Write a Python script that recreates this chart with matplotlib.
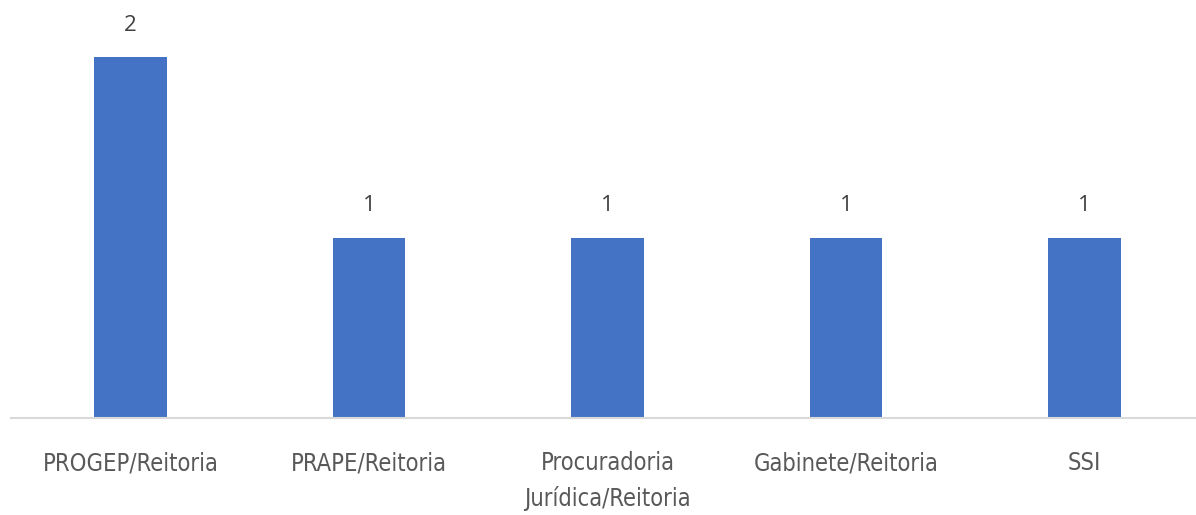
import matplotlib.pyplot as plt

categories = ['PROGEP/Reitoria', 'PRAPE/Reitoria', 'Procuradoria\nJurídica/Reitoria',
              'Gabinete/Reitoria', 'SSI']
values = [2, 1, 1, 1, 1]

fig = plt.figure(figsize=(11.96, 5.15), dpi=100)
ax = fig.add_axes([11.25 / 1196, 97 / 515, 1192.5 / 1196, 397 / 515])

x = range(len(categories))
bars = ax.bar(x, values, width=0.306, color='#4472C4')
ax.set_xlim(-0.5, len(categories) - 0.5)
ax.set_ylim(0, 2.2)

# value labels above each bar
for b, v in zip(bars, values):
    ax.annotate(str(v), (b.get_x() + b.get_width() / 2, v), xytext=(0, 23),
                textcoords='offset points', ha='center', va='center',
                fontsize=16, color='#404040', family='Open Sans')

ax.set_yticks([])
ax.set_xticks(list(x))
ax.set_xticklabels(categories, fontsize=17, color='#595959', family='DejaVu Sans',
                   fontstretch='condensed', linespacing=1.55, va='top')
ax.tick_params(axis='x', length=0, pad=24)
for s in ['top', 'left', 'right']:
    ax.spines[s].set_visible(False)
ax.spines['bottom'].set_color('#D9D9D9')
ax.spines['bottom'].set_linewidth(1.5)

fig.savefig('out.png', dpi=100)
